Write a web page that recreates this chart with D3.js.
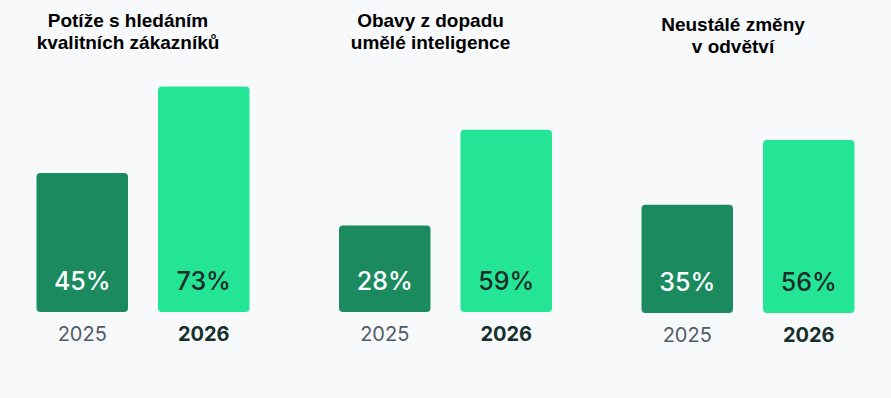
<!DOCTYPE html>
<html>
<head>
<meta charset="utf-8">
<script src="https://cdn.jsdelivr.net/npm/d3@7"></script>
<style>
  html, body { margin: 0; padding: 0; background: #f8f9fb; }
  svg { display: block; }
</style>
</head>
<body>
<svg id="chart"></svg>
<script>
const categories = ["Potíže s hledáním\nkvalitních zákazníků", "Obavy z dopadu\numělé inteligence", "Neustálé změny\nv odvětví"];
const years = ["2025", "2026"];
const values2025 = [45, 28, 35];
const values2026 = [73, 59, 56];

const width = 891;
const height = 398;
// small per-panel vertical nudges seen in the picture
const panelShift = [0, 0, 1];
const titleShift = [0, 0, 4];

const svg = d3.select("#chart")
  .attr("width", width)
  .attr("height", height);

const groupX = d3.scalePoint()
  .domain(categories)
  .range([143, 748]);

const barX = d3.scaleBand()
  .domain(years)
  .range([-106.5, 106.5])
  .paddingInner(0.247);

const y = d3.scaleLinear()
  .domain([0, 100])
  .range([312, 3]);

const colors = { "2025": "#1b8a5f", "2026": "#24e596" };
const labelColors = { "2025": "#ffffff", "2026": "#1e2b29" };

const data = categories.map((c, i) => ({
  category: c,
  index: i,
  bars: [
    { year: "2025", value: values2025[i] },
    { year: "2026", value: values2026[i] }
  ]
}));

const groups = svg.selectAll("g.group")
  .data(data)
  .enter()
  .append("g")
    .attr("class", "group")
    .attr("transform", d => `translate(${groupX(d.category)},${panelShift[d.index]})`);

// titles
groups.append("text")
  .attr("text-anchor", "middle")
  .attr("font-family", "'Liberation Sans', Arial, sans-serif")
  .attr("font-weight", "bold")
  .attr("font-size", 19)
  .attr("fill", "#000")
  .attr("transform", d => `translate(-15,${titleShift[d.index] - panelShift[d.index]})`)
  .selectAll("tspan")
  .data(d => d.category.split("\n"))
  .enter()
  .append("tspan")
    .attr("x", 0)
    .attr("y", (d, i) => 27 + i * 22)
    .text(d => d);

const bars = groups.selectAll("g.bar")
  .data(d => d.bars)
  .enter()
  .append("g")
    .attr("class", "bar");

bars.append("rect")
  .attr("x", d => barX(d.year))
  .attr("y", d => y(d.value))
  .attr("width", barX.bandwidth())
  .attr("height", d => y(0) - y(d.value))
  .attr("rx", 4)
  .attr("fill", d => colors[d.year]);

bars.append("text")
  .attr("x", d => barX(d.year) + barX.bandwidth() / 2)
  .attr("y", y(0) - 22)
  .attr("text-anchor", "middle")
  .attr("font-family", "Inter, 'Noto Sans', sans-serif")
  .attr("font-size", 25)
  .attr("font-weight", 500)
  .attr("fill", d => labelColors[d.year])
  .text(d => d.value + "%");

bars.append("text")
  .attr("x", d => barX(d.year) + barX.bandwidth() / 2)
  .attr("y", y(0) + 29)
  .attr("text-anchor", "middle")
  .attr("font-family", "Inter, 'Noto Sans', sans-serif")
  .attr("font-size", 20)
  .attr("font-weight", d => d.year === "2026" ? 700 : 400)
  .attr("fill", d => d.year === "2026" ? "#17302b" : "#525c68")
  .text(d => d.year);
</script>
</body>
</html>
